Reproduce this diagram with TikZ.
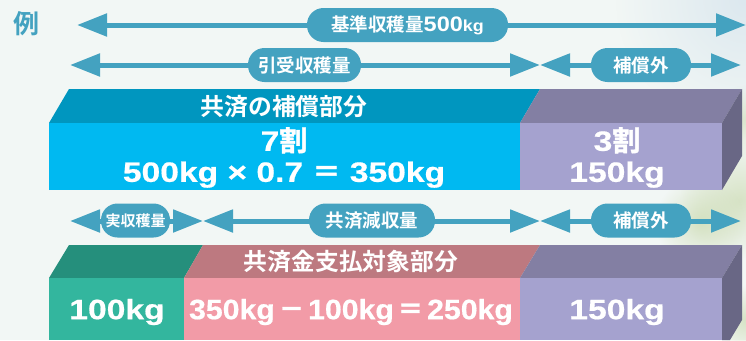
\documentclass[tikz,border=0pt]{standalone}
\usepackage{fontspec}
\setmainfont{Noto Sans CJK JP}[BoldFont={Noto Sans CJK JP Bold}]
\newfontfamily\lat{Liberation Sans}[BoldFont={Liberation Sans Bold},BoldFeatures={FakeStretch=1.2,FakeBold=0.6}]
\newfontfamily\latp{Liberation Sans}[BoldFont={Liberation Sans Bold},BoldFeatures={FakeStretch=1.12}]
\newfontfamily\jpheavy{Noto Sans CJK JP}[BoldFont={Noto Sans CJK JP Bold},BoldFeatures={FakeBold=1.5}]
\newcommand{\jpc}[1]{{\jpheavy\bfseries #1}}
\usetikzlibrary{arrows.meta,fadings}
\definecolor{bg}{HTML}{F2F7F5}
\definecolor{arrowc}{HTML}{44A2C0}
\definecolor{cyanF}{HTML}{00B9F1}
\definecolor{cyanT}{HTML}{0096BF}
\definecolor{purF}{HTML}{A5A2CF}
\definecolor{purT}{HTML}{837FA3}
\definecolor{purS}{HTML}{696785}
\definecolor{grnF}{HTML}{33B69E}
\definecolor{grnT}{HTML}{258F7C}
\definecolor{pnkF}{HTML}{F29BA7}
\definecolor{pnkT}{HTML}{BD7980}
\definecolor{leaf}{HTML}{C5D6A6}
\definecolor{skyc}{HTML}{DCE8EF}
\tikzfading[name=fadeblob,inner color=transparent!0,outer color=transparent!100]
\tikzset{
  x=1pt,y=-1pt,
  span/.style={line width=5pt,draw=arrowc,{Triangle[length=30pt,width=22pt]}-{Triangle[length=30pt,width=22pt]}},
  pill/.style={fill=arrowc,rounded corners=16.5pt,inner sep=0pt,minimum height=34pt,text=white,font=\bfseries\fontsize{18.5}{18.5}\selectfont,anchor=center},
  big/.style={text=white,font=\lat\bfseries\fontsize{28}{31}\selectfont,inner sep=0pt,align=center},
  head/.style={text=white,font=\bfseries\fontsize{23.8}{24}\selectfont,inner sep=0pt},
  leafblob/.style={fill=leaf,path fading=fadeblob,opacity=.6},
}
\begin{document}
\begin{tikzpicture}
\useasboundingbox (0,0) rectangle (746,340);
\fill[bg] (0,0) rectangle (746,340);
% soft sky and foliage on the right
\fill[skyc,path fading=fadeblob] (746,0) circle (130);
\fill[leafblob] (740,200) circle (60);
\fill[leafblob] (700,222) circle (45);
\fill[leafblob,opacity=.5] (745,120) circle (35);
\fill[leafblob] (746,320) circle (35);
% example mark
\node[text=arrowc,font=\bfseries\fontsize{26}{26}\selectfont,inner sep=0pt] (rei) at (26,24) {例};
% row 1
\coordinate (a1) at (77,25); \coordinate (a2) at (746,25);
\draw[span] (a1) -- (a2);
\node[pill,minimum width=201pt] (p1) at (407.5,25) {基準収穫量{\latp\fontsize{21}{21}\selectfont 500{\fontsize{16}{16}\selectfont kg}}};
% row 2
\coordinate (b1) at (70,65); \coordinate (b2) at (540,65); \coordinate (b3) at (741,65);
\draw[span] (b1) -- (b2);
\draw[span] (b2) -- (b3);
\node[pill,minimum width=113pt] (p2) at (304.5,65) {引受収穫量};
\node[pill,minimum width=100pt] (p3) at (641,65) {補償外};
% block 1
\fill[cyanT] (69,89) -- (540,89) -- (520,123) -- (49,123) -- cycle;
\fill[purT] (540,89) -- (742,89) -- (722,123) -- (520,123) -- cycle;
\fill[purS] (742,89) -- (742,156) -- (722,190) -- (722,123) -- cycle;
\fill[cyanF] (49,123) rectangle (520,190);
\fill[purF] (520,123) rectangle (722,190);
\node[head] (h1) at (284,107) {共済の補償部分};
\node[big] (t1) at (284,157.5) {7\jpc{割}\\500kg × 0.7 \jpc{＝} 350kg};
\node[big] (t2) at (617,157.5) {3\jpc{割}\\150kg};
% row 3
\coordinate (c1) at (70,221); \coordinate (c2) at (203,221); \coordinate (c3) at (540,221); \coordinate (c4) at (741,221);
\draw[span] (c1) -- (c2);
\draw[span] (c2) -- (c3);
\draw[span] (c3) -- (c4);
\node[pill,minimum width=69pt,font=\bfseries\fontsize{15}{15}\selectfont] (p4) at (135.5,220.5) {実収穫量};
\node[pill,minimum width=126pt] (p5) at (372,220.5) {共済減収量};
\node[pill,minimum width=100pt] (p6) at (641,220.5) {補償外};
% block 2
\fill[grnT] (69,245) -- (203,245) -- (184,278) -- (49,278) -- cycle;
\fill[pnkT] (203,245) -- (540,245) -- (520,278) -- (184,278) -- cycle;
\fill[purT] (540,245) -- (742,245) -- (722,278) -- (520,278) -- cycle;
\fill[purS] (742,245) -- (742,320) -- (730,340) -- (722,340) -- (722,278) -- cycle;
\fill[grnF] (49,278) rectangle (184,340);
\fill[pnkF] (184,278) rectangle (520,340);
\fill[purF] (520,278) rectangle (722,340);
\node[head] (h2) at (351,262) {共済金支払対象部分};
\node[big] (t3) at (117,312) {100kg};
\node[big,xscale=.9] (t4) at (351,312) {350kg\hspace{4.5pt}\jpc{－}\hspace{4.5pt}100kg\hspace{4.5pt}\jpc{＝}\hspace{4.5pt}250kg};
\node[big] (t5) at (617,312) {150kg};
\end{tikzpicture}
\end{document}
